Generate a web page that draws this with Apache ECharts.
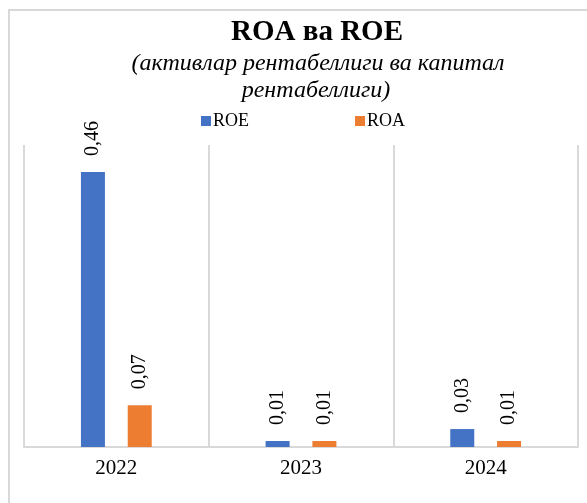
<!DOCTYPE html>
<html>
<head>
<meta charset="utf-8">
<script src="https://cdn.jsdelivr.net/npm/echarts@6/dist/echarts.min.js"></script>
<style>
  html, body { margin: 0; padding: 0; background: #fff; }
  #main { width: 587px; height: 503px; }
</style>
</head>
<body>
<div id="main"></div>
<script>
// данные
const years = ["2022", "2023", "2024"];
const roeValues = [0.46, 0.01, 0.03];
const roaValues = [0.07, 0.01, 0.01];
const seriesNames = ["ROE", "ROA"];

const chart = echarts.init(document.getElementById("main"));
const serif = "'Liberation Serif', 'Times New Roman', serif";

// подпись над столбцом, повернута на 90
const barLabel = {
    show: true,
    position: "top",
    rotate: 90,
    align: "left",
    verticalAlign: "middle",
    distance: 16,
    fontFamily: serif,
    fontSize: 20,
    color: "#000",
    formatter: (p) => p.value.toFixed(2).replace(".", ","),
};

const option = {
    animation: false,
    graphic: [
        {
            type: "rect",
            shape: { x: 9, y: 10, width: 700, height: 600 },
            style: { fill: "none", stroke: "#d9d9d9", lineWidth: 2 },
            silent: true,
        },
        {
            type: "text",
            x: 317,
            y: 33,
            style: {
                text: "ROA ва ROE",
                font: "bold 29px " + serif,
                fill: "#000",
                textAlign: "center",
                textVerticalAlign: "middle",
            },
        },
        {
            type: "text",
            x: 318,
            y: 64,
            style: {
                text: "(активлар рентабеллиги ва капитал",
                font: "italic 24px " + serif,
                fill: "#000",
                textAlign: "center",
                textVerticalAlign: "middle",
            },
        },
        {
            type: "text",
            x: 316,
            y: 91,
            style: {
                text: "рентабеллиги)",
                font: "italic 24px " + serif,
                fill: "#000",
                textAlign: "center",
                textVerticalAlign: "middle",
            },
        },
    ],
    legend: {
        data: seriesNames,
        left: 201,
        top: 112,
        padding: 0,
        icon: "rect",
        itemWidth: 10,
        itemHeight: 10,
        itemGap: 106,
        textStyle: { fontFamily: serif, fontSize: 18, color: "#000", padding: [0, 0, 0, -3] },
    },
    grid: { left: 24, right: 9, top: 145, bottom: 56 },
    xAxis: {
        type: "category",
        data: years,
        axisTick: { show: false },
        axisLine: { lineStyle: { color: "#d9d9d9", width: 2 } },
        axisLabel: { fontFamily: serif, fontSize: 21, color: "#000", margin: 11 },
        splitLine: { show: true, lineStyle: { color: "#d9d9d9", width: 2 } },
    },
    yAxis: {
        type: "value",
        min: 0,
        max: 0.505,
        show: false,
        splitLine: { show: false },
    },
    series: [
        {
            name: seriesNames[0],
            type: "bar",
            data: roeValues,
            barWidth: 24,
            barGap: "95%",
            itemStyle: { color: "#4472c4" },
            label: barLabel,
        },
        {
            name: seriesNames[1],
            type: "bar",
            data: roaValues,
            barWidth: 24,
            itemStyle: { color: "#ed7d31" },
            label: barLabel,
        },
    ],
};

chart.setOption(option);
</script>
</body>
</html>
